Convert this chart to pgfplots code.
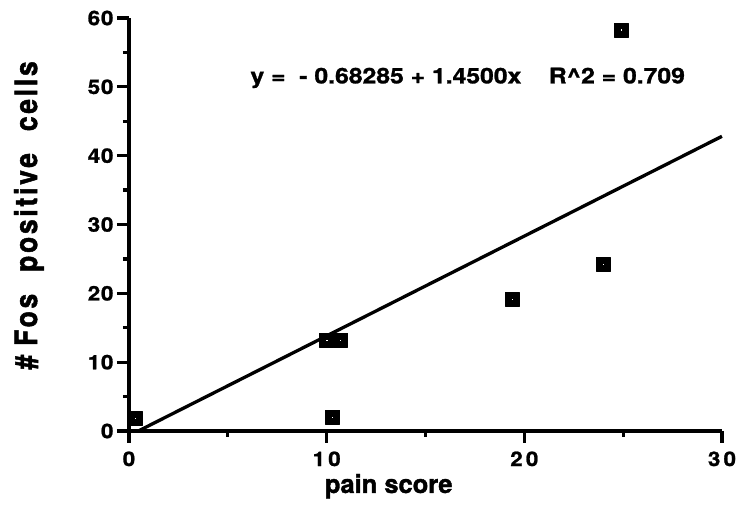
\documentclass[border=0pt]{standalone}
\usepackage{fontspec}
\setmainfont{TeX Gyre Heros}
\usepackage{pgfplots}
\pgfplotsset{compat=1.18}

% pain score vs. number of Fos-positive cells
\pgfplotstableread{
x     y
0.3   1.9
10.0  13.2
10.7  13.2
10.3  2.0
19.4  19.2
24.0  24.2
24.9  58.3
}\fosdata

% fixed word gaps for the letter-spaced axis label
\newcommand{\wgap}[1]{\hbox to #1{\hfil}}

\begin{document}
\begin{tikzpicture}
\useasboundingbox (-129pt,-85pt) rectangle (613pt,431pt);
\begin{axis}[
  scale only axis,
  width=593pt, height=413pt,
  xmin=0, xmax=30, ymin=0, ymax=60,
  axis lines=left,
  axis line style={-, line width=3.4pt},
  xtick={0,10,20,30},
  ytick={0,10,...,60},
  minor x tick num=1, minor y tick num=1,
  tick align=outside,
  major tick length=12pt, minor tick length=6pt,
  tick style={line width=3.2pt, black},
  /pgf/number format/assume math mode=true,
  xticklabel style={yshift=-5pt,
    font=\fontsize{20}{20}\selectfont\bfseries\addfontfeatures{LetterSpace=16,FakeStretch=1.12,FakeBold=1.2}},
  yticklabel style={
    font=\fontsize{20}{20}\selectfont\bfseries\addfontfeatures{LetterSpace=4,FakeStretch=1.12,FakeBold=1.2}},
  xlabel={pain score},
  ylabel={\#\wgap{9pt}Fos\wgap{22pt}positive\wgap{22pt}cells},
  x label style={at={(axis description cs:0.438,-0.150)}, anchor=base,
    font=\fontsize{25.5}{25.5}\selectfont\bfseries\addfontfeatures{FakeBold=1.5}},
  y label style={at={(axis description cs:-0.155,0.522)}, anchor=base,
    font=\fontsize{31}{31}\selectfont\bfseries\addfontfeatures{LetterSpace=9,FakeStretch=0.85,FakeBold=1.5}},
  clip=false,
]
% least-squares line y = -0.68285 + 1.45 x
\addplot[black, line width=3.3pt] coordinates {(0.471,0) (30,42.817)};
\addplot[only marks, mark=square*, mark size=7pt, mark options={fill=black, draw=black, line join=round}]
  table[x=x, y=y] {\fosdata};
\addplot[only marks, mark=square*, mark size=1.1pt, mark options={fill=white, draw=none}]
  table[x=x, y=y] {\fosdata};
\node[anchor=base west, font=\fontsize{21.5}{21.5}\selectfont\bfseries\addfontfeatures{FakeStretch=1.15,FakeBold=1.2}]
  at (axis cs:5.97,50.5) {y = ~- 0.68285 + 1.4500x ~~~R\^{}2 = 0.709};
\end{axis}
\end{tikzpicture}
\end{document}
